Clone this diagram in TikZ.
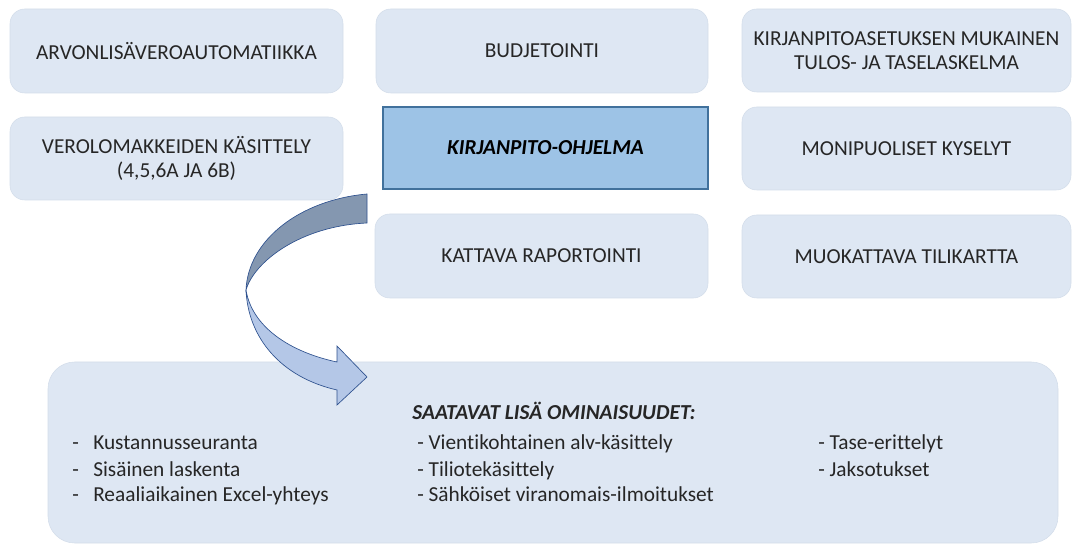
\documentclass[tikz,border=0pt]{standalone}
\usepackage{fontspec}
\setmainfont[Ligatures=NoCommon]{Carlito}
\definecolor{boxfill}{HTML}{DEE7F3}
\definecolor{boxline}{HTML}{D3DDEA}
\definecolor{midfill}{HTML}{9DC3E6}
\definecolor{midline}{HTML}{41719C}
\definecolor{darkband}{HTML}{8497B0}
\definecolor{lightband}{HTML}{B4C7E7}
\definecolor{arrline}{HTML}{2F528F}
\definecolor{txt}{HTML}{262626}
\tikzset{
  lbox/.style={draw=boxline, line width=0.4pt, fill=boxfill, rounded corners=11pt, align=center, text=txt, font=\fontsize{16}{18.5}\selectfont, inner sep=0pt},
  mbox/.style={draw=midline, line width=0.8pt, fill=midfill, align=center, text=black, font=\fontsize{16}{18.5}\selectfont\bfseries\itshape, inner sep=0pt},
  ltxt/.style={anchor=base west, text=txt, font=\fontsize{16}{18.5}\selectfont, inner sep=0pt},
}
\begin{document}
\begin{tikzpicture}[x=0.75pt,y=-0.75pt]
\useasboundingbox (0,0) rectangle (1072,545);
% left column
\node[lbox, minimum width=249.75pt, minimum height=63pt] (a1) at (176.5,51) {ARVONLISÄVEROAUTOMATIIKKA};
\node[lbox, minimum width=249.75pt, minimum height=62.25pt] (a2) at (176.5,158.5) {VEROLOMAKKEIDEN KÄSITTELY\\(4,5,6A JA 6B)};
% middle column
\node[lbox, minimum width=249pt, minimum height=63pt] (b1) at (542,51) {BUDJETOINTI};
\node[mbox, minimum width=243.75pt, minimum height=61.5pt] (b2) at (545.5,148) {KIRJANPITO-OHJELMA};
\node[lbox, minimum width=249.75pt, minimum height=63pt] (b3) at (541.5,256) {KATTAVA RAPORTOINTI};
% right column
\node[lbox, minimum width=246.75pt, minimum height=62.25pt] (c1) at (906.5,50.5) {KIRJANPITOASETUKSEN MUKAINEN\\TULOS- JA TASELASKELMA};
\node[lbox, minimum width=246.75pt, minimum height=62.25pt] (c2) at (906.5,148.5) {MONIPUOLISET KYSELYT};
\node[lbox, minimum width=246.75pt, minimum height=62.25pt] (c3) at (906.5,256.5) {MUOKATTAVA TILIKARTTA};
% bottom box
\node[lbox, rounded corners=20pt, minimum width=757.5pt, minimum height=135.75pt] (bot) at (553,452.5) {};
% curved arrow
\coordinate (T1) at (367,194);
\coordinate (T2) at (367,223);
\coordinate (P) at (246,290);
\coordinate (H1) at (337,390);
\coordinate (H2) at (337,362);
\coordinate (HB1) at (337,405);
\coordinate (HB2) at (337,346);
\coordinate (TIP) at (367,377);
\fill[lightband, draw=arrline, line width=0.5pt, line join=miter]
  (P) .. controls (248,337) and (280,377) .. (H1) -- (HB1) -- (TIP) -- (HB2) -- (H2)
  .. controls (290,352) and (252,327) .. (P) -- cycle;
\fill[darkband, draw=arrline, line width=0.5pt]
  (T1) .. controls (300,200) and (248,240) .. (P)
  .. controls (254,262) and (300,226) .. (T2) -- cycle;
% bottom texts
\node[text=txt, font=\fontsize{16}{18.5}\selectfont\bfseries\itshape, anchor=base west, inner sep=0pt] (head) at (412,420) {SAATAVAT LISÄ OMINAISUUDET:};
\node[ltxt] (d1) at (72,450) {-};
\node[ltxt] (d2) at (72,476) {-};
\node[ltxt] (d3) at (72,502) {-};
\node[ltxt] (k1) at (93,450) {Kustannusseuranta};
\node[ltxt] (k2) at (93,476) {Sisäinen laskenta};
\node[ltxt] (k3) at (93,502) {Reaaliaikainen Excel-yhteys};
\node[ltxt] (m1) at (417,450) {- Vientikohtainen alv-käsittely};
\node[ltxt] (m2) at (417,476) {- Tiliotekäsittely};
\node[ltxt] (m3) at (417,502) {- Sähköiset viranomais-ilmoitukset};
\node[ltxt] (r1) at (818,450) {- Tase-erittelyt};
\node[ltxt] (r2) at (818,476) {- Jaksotukset};
\end{tikzpicture}
\end{document}
